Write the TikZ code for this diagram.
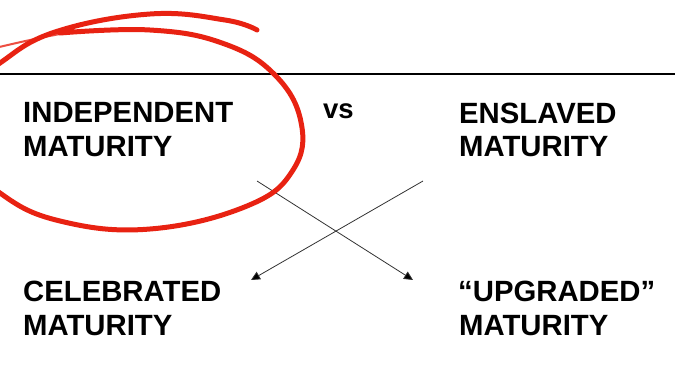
\documentclass[tikz,border=0pt]{standalone}
\usepackage{fontspec}
\setmainfont{Liberation Sans}
\usetikzlibrary{arrows.meta}
\definecolor{penred}{RGB}{232,34,18}
\definecolor{arrowgray}{RGB}{50,50,50}
\tikzset{
  lbl/.style={inner sep=0pt, anchor=base west, font=\fontsize{29.3}{34}\selectfont\bfseries},
  vslbl/.style={inner sep=0pt, anchor=base west, font=\fontsize{27.5}{32}\selectfont\bfseries},
  conn/.style={draw=arrowgray, line width=0.8pt, -{Triangle[length=9pt,width=8.5pt,fill=black]}},
  rule/.style={draw=black, line width=1.6pt},
  pen/.style={draw=penred, line width=5pt, line cap=round, line join=round},
  thinpen/.style={draw=penred, line width=2pt, line cap=round, opacity=0.8}
}
\begin{document}
\begin{tikzpicture}[x=1pt,y=-1pt]
\useasboundingbox (0,0) rectangle (675,368);
\clip (0,0) rectangle (675,368);
% horizontal rule
\coordinate (rl) at (0,74);
\coordinate (rr) at (675,74);
\draw[rule] (rl) -- (rr);
% texts
\node[lbl] (ind1) at (23,122.7) {INDEPENDENT};
\node[lbl] (ind2) at (23,156.5) {MATURITY};
\node[vslbl] (vs) at (323,118.3) {vs};
\node[lbl] (ens1) at (459,123) {ENSLAVED};
\node[lbl] (ens2) at (459,156.5) {MATURITY};
\node[lbl] (cel1) at (23,301) {CELEBRATED};
\node[lbl] (cel2) at (23,335) {MATURITY};
\node[lbl] (upg1) at (458,301) {“UPGRADED”};
\node[lbl] (upg2) at (459,335) {MATURITY};
% arrows
\coordinate (a1s) at (257,181);
\coordinate (a1e) at (413,280);
\coordinate (a2s) at (423,181);
\coordinate (a2e) at (251,280);
\draw[conn] (a1s) -- (a1e);
\draw[conn] (a2s) -- (a2e);
% red hand-drawn ellipse
\draw[thinpen] plot[smooth, tension=0.7] coordinates {(-5,48) (30,40) (65,33)};
\draw[pen] plot[smooth, tension=0.7] coordinates {
  (60,33) (150,30) (222,43) (274,74) (301,122) (293,170) (247,206)
  (150,229) (60,221) (0,193) (-40,150) (-30,90) (0,63) (55,32)
  (150,14) (225,20) (257,30)};
\end{tikzpicture}
\end{document}
